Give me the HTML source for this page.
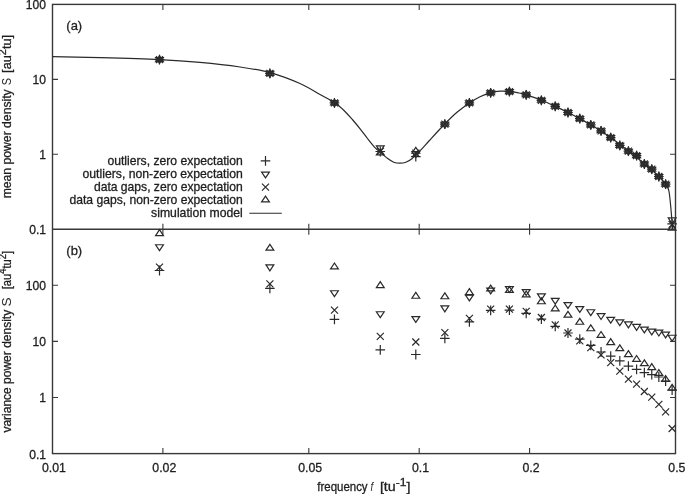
<!DOCTYPE html><html><head><meta charset="utf-8"><title>plot</title><style>
html,body{margin:0;padding:0;background:#fff;width:685px;height:494px;overflow:hidden}
svg{display:block;will-change:transform}
text{font-family:"Liberation Sans",sans-serif;fill:#1e1e1e;stroke:#1e1e1e;stroke-width:0.3px}
</style></head><body>
<svg width="685" height="494" viewBox="0 0 685 494">
<defs>
<path id="pP" d="M-4.8,0H4.8M0,-4.9V4.9" fill="none" stroke="#2a2a2a" stroke-width="1.2"/>
<path id="pX" d="M-3.5,-3.5L3.5,3.5M-3.5,3.5L3.5,-3.5" fill="none" stroke="#2a2a2a" stroke-width="1.2"/>
<path id="pU" d="M0,-3.9L-3.9,1.95L3.9,1.95Z" fill="none" stroke="#2a2a2a" stroke-width="1.2"/>
<path id="pD" d="M0,3.9L-3.9,-1.95L3.9,-1.95Z" fill="none" stroke="#2a2a2a" stroke-width="1.2"/>
<clipPath id="ct"><rect x="52.5" y="4.4" width="623.0" height="224.8"/></clipPath>
</defs>
<g stroke="#383838" stroke-width="1.4" fill="none">
<rect x="52.5" y="4.4" width="623.0" height="449.20000000000005"/>
<path d="M52.5,229.2H675.5"/>
</g>
<path d="M162.89,4.4v5.5 M162.89,223.7v11 M162.89,453.6v-5.5 M308.81,4.4v5.5 M308.81,223.7v11 M308.81,453.6v-5.5 M419.19,4.4v5.5 M419.19,223.7v11 M419.19,453.6v-5.5 M529.58,4.4v5.5 M529.58,223.7v11 M529.58,453.6v-5.5 M52.5,79.33h5.5 M675.5,79.33h-5.5 M52.5,154.27h5.5 M675.5,154.27h-5.5 M52.5,285.30h5.5 M675.5,285.30h-5.5 M52.5,341.40h5.5 M675.5,341.40h-5.5 M52.5,397.50h5.5 M675.5,397.50h-5.5" stroke="#383838" stroke-width="1.1" fill="none"/>
<g font-size="12.1" text-anchor="end">
<text x="46" y="9.30">100</text>
<text x="46" y="84.23">10</text>
<text x="46" y="159.17">1</text>
<text x="46" y="234.10">0.1</text>
<text x="46" y="290.20">100</text>
<text x="46" y="346.30">10</text>
<text x="46" y="402.40">1</text>
<text x="46" y="458.50">0.1</text>
</g>
<g font-size="12.3" text-anchor="middle">
<text x="53.90" y="472">0.01</text>
<text x="164.29" y="472">0.02</text>
<text x="310.21" y="472">0.05</text>
<text x="420.59" y="472">0.1</text>
<text x="530.98" y="472">0.2</text>
<text x="676.90" y="472">0.5</text>
</g>
<text transform="translate(11.4,198.35) rotate(-90)" font-size="12.3" textLength="109.04" lengthAdjust="spacingAndGlyphs">mean power density</text>
<text transform="translate(11.4,85.14) rotate(-90)" font-size="12.3" textLength="7.26" lengthAdjust="spacingAndGlyphs" fill="#666" style="stroke:none;fill:#2a2a2a">S</text>
<text transform="translate(11.4,72.90) rotate(-90)" font-size="12.3" textLength="38.05" lengthAdjust="spacingAndGlyphs">[au<tspan font-size="10.46" dy="-5.40">2</tspan><tspan dy="5.40">tu]</tspan></text>
<text transform="translate(11.4,432.62) rotate(-90)" font-size="12.3" textLength="122.81" lengthAdjust="spacingAndGlyphs">variance power density</text>
<text transform="translate(11.4,306.48) rotate(-90)" font-size="12.3" textLength="9.13" lengthAdjust="spacingAndGlyphs" fill="#666" style="stroke:none;fill:#2a2a2a">S</text>
<text transform="translate(11.4,289.28) rotate(-90)" font-size="12.3" textLength="38.44" lengthAdjust="spacingAndGlyphs">[au<tspan font-size="10.46" dy="-5.40">4</tspan><tspan dy="5.40">tu</tspan><tspan font-size="10.46" dy="-5.40">2</tspan><tspan dy="5.40">]</tspan></text>
<text x="317.29" y="491.3" font-size="12.3" textLength="50.33" lengthAdjust="spacingAndGlyphs">frequency</text>
<text x="370.51" y="491.3" font-size="12.3" textLength="2.69" lengthAdjust="spacingAndGlyphs" fill="#666" font-style="italic" style="stroke:none;fill:#2a2a2a">f</text>
<text x="379.90" y="491.3" font-size="12.3" textLength="30.58" lengthAdjust="spacingAndGlyphs">[tu<tspan font-size="10.46" dy="-5.40">-1</tspan><tspan dy="5.40">]</tspan></text>
<text x="66.3" y="30.2" font-size="13">(a)</text>
<text x="66.3" y="254.8" font-size="13">(b)</text>
<text x="107.41" y="165.4" font-size="12.1" textLength="135.41" lengthAdjust="spacingAndGlyphs">outliers, zero expectation</text>
<text x="82.51" y="178.2" font-size="12.1" textLength="160.33" lengthAdjust="spacingAndGlyphs">outliers, non-zero expectation</text>
<text x="93.92" y="191.0" font-size="12.1" textLength="148.89" lengthAdjust="spacingAndGlyphs">data gaps, zero expectation</text>
<text x="69.41" y="203.8" font-size="12.1" textLength="173.41" lengthAdjust="spacingAndGlyphs">data gaps, non-zero expectation</text>
<text x="151.13" y="216.6" font-size="12.1" textLength="91.64" lengthAdjust="spacingAndGlyphs">simulation model</text>
<use href="#pP" x="265.50" y="160.80"/>
<use href="#pD" x="265.50" y="174.00"/>
<use href="#pX" x="265.50" y="187.20"/>
<use href="#pU" x="265.50" y="200.00"/>
<path d="M249.3,213.3H281.8" stroke="#2a2a2a" stroke-width="1.1"/>
<path d="M52.50,56.60 C60.42,56.77 82.17,57.10 100.00,57.60 C117.83,58.10 142.83,58.80 159.50,59.60 C176.17,60.40 186.58,61.17 200.00,62.40 C213.42,63.63 228.33,65.30 240.00,67.00 C251.67,68.70 260.00,69.85 270.00,72.60 C280.00,75.35 291.67,79.85 300.00,83.50 C308.33,87.15 314.23,91.32 320.00,94.50 C325.77,97.68 330.40,99.73 334.60,102.60 C338.80,105.47 342.17,108.80 345.20,111.70 C348.23,114.60 350.28,117.10 352.80,120.00 C355.32,122.90 357.78,125.93 360.30,129.10 C362.82,132.27 365.37,135.83 367.90,139.00 C370.43,142.17 373.35,145.83 375.50,148.10 C377.65,150.37 378.77,150.85 380.80,152.60 C382.83,154.35 385.55,157.00 387.70,158.60 C389.85,160.20 391.68,161.43 393.70,162.20 C395.72,162.97 397.77,163.18 399.80,163.20 C401.83,163.22 403.88,163.03 405.90,162.30 C407.92,161.57 410.27,160.08 411.90,158.80 C413.53,157.52 413.92,156.38 415.70,154.60 C417.48,152.82 420.32,150.45 422.60,148.10 C424.88,145.75 425.70,144.52 429.40,140.50 C433.10,136.48 440.20,128.70 444.80,124.00 C449.40,119.30 452.88,115.80 457.00,112.30 C461.12,108.80 465.67,105.58 469.50,103.00 C473.33,100.42 476.47,98.48 480.00,96.80 C483.53,95.12 487.37,93.83 490.70,92.90 C494.03,91.97 496.83,91.45 500.00,91.20 C503.17,90.95 506.70,91.13 509.70,91.40 C512.70,91.67 515.22,92.22 518.00,92.80 C520.78,93.38 522.47,93.65 526.40,94.90 C530.33,96.15 536.78,98.38 541.60,100.30 C546.42,102.22 550.90,104.37 555.30,106.40 C559.70,108.43 563.93,110.47 568.00,112.50 C572.07,114.53 575.90,116.55 579.70,118.60 C583.50,120.65 587.20,122.70 590.80,124.80 C594.40,126.90 597.97,129.07 601.30,131.20 C604.63,133.33 607.68,135.37 610.80,137.60 C613.92,139.83 617.05,142.42 620.00,144.60 C622.95,146.78 625.77,148.63 628.50,150.70 C631.23,152.77 633.82,154.82 636.40,157.00 C638.98,159.18 641.45,161.63 644.00,163.80 C646.55,165.97 649.13,167.80 651.70,170.00 C654.27,172.20 657.35,175.00 659.40,177.00 C661.45,179.00 662.70,180.42 664.00,182.00 C665.30,183.58 666.37,184.92 667.20,186.50 C668.03,188.08 668.47,188.75 669.00,191.50 C669.53,194.25 669.98,199.00 670.40,203.00 C670.82,207.00 671.15,211.50 671.50,215.50 C671.85,219.50 672.22,223.58 672.50,227.00 C672.78,230.42 673.08,234.50 673.20,236.00" fill="none" stroke="#2a2a2a" stroke-width="1.2" clip-path="url(#ct)"/>
<use href="#pP" x="159.50" y="59.60"/><use href="#pD" x="159.50" y="59.60"/><use href="#pX" x="159.50" y="59.60"/><use href="#pU" x="159.50" y="59.60"/>
<use href="#pP" x="269.89" y="73.40"/><use href="#pD" x="269.89" y="73.40"/><use href="#pX" x="269.89" y="73.40"/><use href="#pU" x="269.89" y="73.40"/>
<use href="#pP" x="334.46" y="102.90"/><use href="#pD" x="334.46" y="102.90"/><use href="#pX" x="334.46" y="102.90"/><use href="#pU" x="334.46" y="102.90"/>
<use href="#pP" x="380.28" y="151.50"/><use href="#pD" x="380.28" y="147.80"/><use href="#pX" x="380.28" y="151.30"/><use href="#pU" x="380.28" y="153.00"/>
<use href="#pP" x="415.81" y="156.70"/><use href="#pD" x="415.81" y="153.50"/><use href="#pX" x="415.81" y="153.20"/><use href="#pU" x="415.81" y="151.30"/>
<use href="#pP" x="444.85" y="124.20"/><use href="#pD" x="444.85" y="124.20"/><use href="#pX" x="444.85" y="124.20"/><use href="#pU" x="444.85" y="124.20"/>
<use href="#pP" x="469.40" y="102.90"/><use href="#pD" x="469.40" y="102.90"/><use href="#pX" x="469.40" y="102.90"/><use href="#pU" x="469.40" y="102.90"/>
<use href="#pP" x="490.66" y="92.80"/><use href="#pD" x="490.66" y="92.80"/><use href="#pX" x="490.66" y="92.80"/><use href="#pU" x="490.66" y="92.80"/>
<use href="#pP" x="509.42" y="91.60"/><use href="#pD" x="509.42" y="91.60"/><use href="#pX" x="509.42" y="91.60"/><use href="#pU" x="509.42" y="91.60"/>
<use href="#pP" x="526.20" y="94.80"/><use href="#pD" x="526.20" y="94.80"/><use href="#pX" x="526.20" y="94.80"/><use href="#pU" x="526.20" y="94.80"/>
<use href="#pP" x="541.38" y="100.30"/><use href="#pD" x="541.38" y="100.30"/><use href="#pX" x="541.38" y="100.30"/><use href="#pU" x="541.38" y="100.30"/>
<use href="#pP" x="555.24" y="106.30"/><use href="#pD" x="555.24" y="106.30"/><use href="#pX" x="555.24" y="106.30"/><use href="#pU" x="555.24" y="106.30"/>
<use href="#pP" x="567.98" y="112.50"/><use href="#pD" x="567.98" y="112.50"/><use href="#pX" x="567.98" y="112.50"/><use href="#pU" x="567.98" y="112.50"/>
<use href="#pP" x="579.79" y="118.60"/><use href="#pD" x="579.79" y="118.60"/><use href="#pX" x="579.79" y="118.60"/><use href="#pU" x="579.79" y="118.60"/>
<use href="#pP" x="590.77" y="124.90"/><use href="#pD" x="590.77" y="124.90"/><use href="#pX" x="590.77" y="124.90"/><use href="#pU" x="590.77" y="124.90"/>
<use href="#pP" x="601.05" y="130.80"/><use href="#pD" x="601.05" y="130.80"/><use href="#pX" x="601.05" y="130.80"/><use href="#pU" x="601.05" y="130.80"/>
<use href="#pP" x="610.71" y="137.60"/><use href="#pD" x="610.71" y="137.60"/><use href="#pX" x="610.71" y="137.60"/><use href="#pU" x="610.71" y="137.60"/>
<use href="#pP" x="619.81" y="145.40"/><use href="#pD" x="619.81" y="145.40"/><use href="#pX" x="619.81" y="145.40"/><use href="#pU" x="619.81" y="145.40"/>
<use href="#pP" x="628.42" y="151.20"/><use href="#pD" x="628.42" y="151.20"/><use href="#pX" x="628.42" y="151.20"/><use href="#pU" x="628.42" y="151.20"/>
<use href="#pP" x="636.59" y="155.60"/><use href="#pD" x="636.59" y="155.60"/><use href="#pX" x="636.59" y="155.60"/><use href="#pU" x="636.59" y="155.60"/>
<use href="#pP" x="644.36" y="164.00"/><use href="#pD" x="644.36" y="164.00"/><use href="#pX" x="644.36" y="164.00"/><use href="#pU" x="644.36" y="164.00"/>
<use href="#pP" x="651.77" y="169.20"/><use href="#pD" x="651.77" y="169.20"/><use href="#pX" x="651.77" y="169.20"/><use href="#pU" x="651.77" y="169.20"/>
<use href="#pP" x="658.85" y="176.50"/><use href="#pD" x="658.85" y="176.50"/><use href="#pX" x="658.85" y="176.50"/><use href="#pU" x="658.85" y="176.50"/>
<use href="#pP" x="665.62" y="184.20"/><use href="#pD" x="665.62" y="184.20"/><use href="#pX" x="665.62" y="184.20"/><use href="#pU" x="665.62" y="184.20"/>
<use href="#pP" x="672.12" y="223.90"/><use href="#pD" x="672.12" y="219.90"/><use href="#pX" x="672.12" y="224.50"/><use href="#pU" x="672.12" y="228.30"/>
<use href="#pU" x="159.50" y="233.60"/><use href="#pD" x="159.50" y="246.70"/><use href="#pX" x="159.50" y="267.20"/><use href="#pP" x="159.50" y="270.50"/>
<use href="#pU" x="269.89" y="248.20"/><use href="#pD" x="269.89" y="266.90"/><use href="#pX" x="269.89" y="283.90"/><use href="#pP" x="269.89" y="288.40"/>
<use href="#pU" x="334.46" y="266.90"/><use href="#pD" x="334.46" y="292.70"/><use href="#pX" x="334.46" y="310.20"/><use href="#pP" x="334.46" y="319.30"/>
<use href="#pU" x="380.28" y="285.60"/><use href="#pD" x="380.28" y="313.70"/><use href="#pX" x="380.28" y="336.40"/><use href="#pP" x="380.28" y="349.90"/>
<use href="#pU" x="415.81" y="296.30"/><use href="#pD" x="415.81" y="318.50"/><use href="#pX" x="415.81" y="342.00"/><use href="#pP" x="415.81" y="354.50"/>
<use href="#pU" x="444.85" y="296.80"/><use href="#pD" x="444.85" y="307.90"/><use href="#pX" x="444.85" y="332.70"/><use href="#pP" x="444.85" y="338.30"/>
<use href="#pU" x="469.40" y="292.60"/><use href="#pD" x="469.40" y="297.00"/><use href="#pX" x="469.40" y="318.30"/><use href="#pP" x="469.40" y="321.90"/>
<use href="#pU" x="490.66" y="289.00"/><use href="#pD" x="490.66" y="290.00"/><use href="#pX" x="490.66" y="309.20"/><use href="#pP" x="490.66" y="310.40"/>
<use href="#pU" x="509.42" y="290.50"/><use href="#pD" x="509.42" y="288.60"/><use href="#pX" x="509.42" y="309.20"/><use href="#pP" x="509.42" y="310.20"/>
<use href="#pU" x="526.20" y="294.90"/><use href="#pD" x="526.20" y="291.60"/><use href="#pX" x="526.20" y="311.40"/><use href="#pP" x="526.20" y="313.40"/>
<use href="#pU" x="541.38" y="301.80"/><use href="#pD" x="541.38" y="295.90"/><use href="#pX" x="541.38" y="317.50"/><use href="#pP" x="541.38" y="319.20"/>
<use href="#pU" x="555.24" y="308.90"/><use href="#pD" x="555.24" y="300.30"/><use href="#pX" x="555.24" y="324.90"/><use href="#pP" x="555.24" y="326.30"/>
<use href="#pU" x="567.98" y="315.20"/><use href="#pD" x="567.98" y="304.50"/><use href="#pX" x="567.98" y="333.00"/><use href="#pP" x="567.98" y="333.00"/>
<use href="#pU" x="579.79" y="322.30"/><use href="#pD" x="579.79" y="308.50"/><use href="#pX" x="579.79" y="340.80"/><use href="#pP" x="579.79" y="339.20"/>
<use href="#pU" x="590.77" y="328.80"/><use href="#pD" x="590.77" y="311.70"/><use href="#pX" x="590.77" y="347.60"/><use href="#pP" x="590.77" y="345.30"/>
<use href="#pU" x="601.05" y="335.40"/><use href="#pD" x="601.05" y="315.60"/><use href="#pX" x="601.05" y="354.90"/><use href="#pP" x="601.05" y="352.00"/>
<use href="#pU" x="610.71" y="342.60"/><use href="#pD" x="610.71" y="319.30"/><use href="#pX" x="610.71" y="362.60"/><use href="#pP" x="610.71" y="356.20"/>
<use href="#pU" x="619.81" y="348.70"/><use href="#pD" x="619.81" y="321.80"/><use href="#pX" x="619.81" y="371.10"/><use href="#pP" x="619.81" y="360.90"/>
<use href="#pU" x="628.42" y="354.60"/><use href="#pD" x="628.42" y="323.90"/><use href="#pX" x="628.42" y="379.20"/><use href="#pP" x="628.42" y="366.20"/>
<use href="#pU" x="636.59" y="359.40"/><use href="#pD" x="636.59" y="326.40"/><use href="#pX" x="636.59" y="384.20"/><use href="#pP" x="636.59" y="369.40"/>
<use href="#pU" x="644.36" y="363.70"/><use href="#pD" x="644.36" y="329.00"/><use href="#pX" x="644.36" y="391.50"/><use href="#pP" x="644.36" y="372.60"/>
<use href="#pU" x="651.77" y="367.60"/><use href="#pD" x="651.77" y="331.00"/><use href="#pX" x="651.77" y="397.10"/><use href="#pP" x="651.77" y="374.70"/>
<use href="#pU" x="658.85" y="373.50"/><use href="#pD" x="658.85" y="332.10"/><use href="#pX" x="658.85" y="404.30"/><use href="#pP" x="658.85" y="377.00"/>
<use href="#pU" x="665.62" y="379.40"/><use href="#pD" x="665.62" y="334.00"/><use href="#pX" x="665.62" y="411.80"/><use href="#pP" x="665.62" y="381.20"/>
<use href="#pU" x="672.12" y="388.20"/><use href="#pD" x="672.12" y="337.20"/><use href="#pX" x="672.12" y="428.50"/><use href="#pP" x="672.12" y="390.00"/>
</svg></body></html>
